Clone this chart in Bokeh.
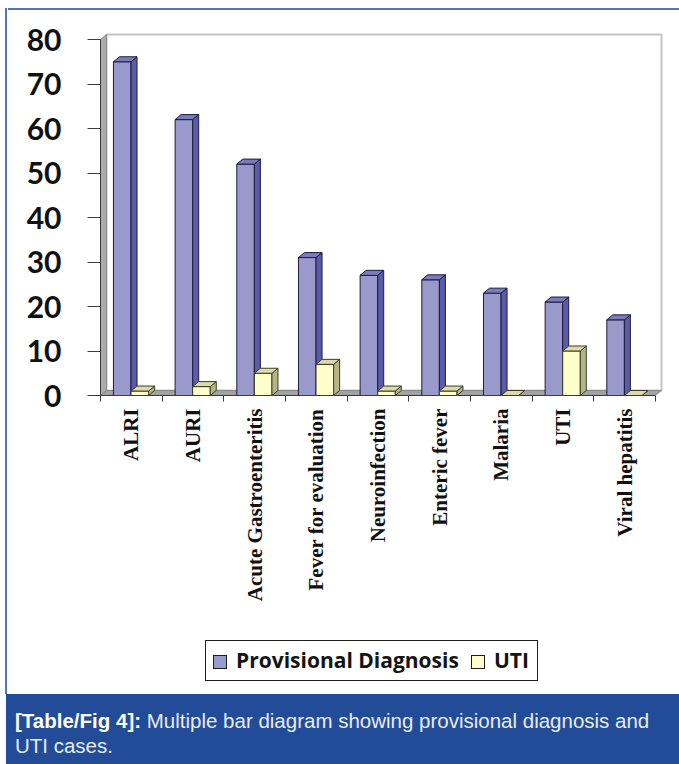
import math
from bokeh.plotting import figure
from bokeh.models import Range1d, FixedTicker, Div
from bokeh.layouts import column, row
from bokeh.embed import file_html
from bokeh.resources import INLINE

# ---------------- data ----------------
categories = ["ALRI", "AURI", "Acute Gastroenteritis", "Fever for evaluation",
              "Neuroinfection", "Enteric fever", "Malaria", "UTI", "Viral hepatitis"]
provisional = [75, 62, 52, 31, 27, 26, 23, 21, 17]
uti = [1, 2, 5, 7, 1, 1, 0, 10, 0]
y_ticks = [0, 10, 20, 30, 40, 50, 60, 70, 80]
series_names = ["Provisional Diagnosis", "UTI"]
caption_bold = "[Table/Fig 4]:"
caption_line1 = " Multiple bar diagram showing provisional diagnosis and"
caption_line2 = "UTI cases."

# ---------------- styling / layout ----------------
W = 671
LEFT_W = 8
H_TOP, H1, H_LEG, H_CAP = 10, 628, 56, 70
BORDER_BLUE = "#5376BA"
BAND_BLUE = "#224C97"

FRAME_L, FRAME_R, FRAME_T, FRAME_B = 92, 655, 22, 385
PX_PER_CAT = 61.67
PX_PER_UNIT = 4.45
n = len(categories)
X0 = 0.5
X1 = X0 + (FRAME_R - FRAME_L) / PX_PER_CAT
Y1 = (FRAME_B - FRAME_T) / PX_PER_UNIT
YMAX = y_ticks[-1]
DX = 6 / PX_PER_CAT
DY = 5 / PX_PER_UNIT
BAR_W = 0.285
PURPLE_OFF = -0.29
YELLOW_OFF = PURPLE_OFF + BAR_W

PURPLE = dict(front="#9999CC", side="#5B5BA9", top="#7B7BBE", line="#1C1C3C")
YELLOW = dict(front="#FFFFCC", side="#B5B58C", top="#DADAAE", line="#3C3C24")

p = figure(width=W, height=H1, x_range=Range1d(X0, X1), y_range=Range1d(0, Y1),
           min_border_left=FRAME_L, min_border_right=W - FRAME_R,
           min_border_top=FRAME_T, min_border_bottom=H1 - FRAME_B,
           toolbar_location=None, output_backend="svg", outline_line_color=None,
           background_fill_color="white", border_fill_color="white")
p.xgrid.visible = False
p.ygrid.visible = False

# walls and floor
p.quad(left=[X0 + DX], right=[n + X0 + DX], bottom=[DY], top=[YMAX + DY],
       fill_color="white", line_color="#C4C4C4", line_width=2)
p.patch(x=[X0, X0 + DX, X0 + DX, X0], y=[0, DY, YMAX + DY, YMAX],
        fill_color="#ABABAB", line_color="#8A8A8A", line_width=1)
p.patch(x=[X0, n + X0, n + X0 + DX, X0 + DX], y=[0, 0, DY, DY],
        fill_color="#A2A2A2", line_color="#8A8A8A", line_width=1)


def draw_bars(offset, vals, col):
    lefts = [i + 1 + offset for i in range(n)]
    rights = [l + BAR_W for l in lefts]
    p.quad(left=lefts, right=rights, bottom=[0] * n, top=vals,
           fill_color=col["front"], line_color=col["line"], line_width=1)
    p.patches(xs=[[r, r + DX, r + DX, r] for r in rights],
              ys=[[0, DY, v + DY, v] for v in vals],
              fill_color=col["side"], line_color=col["line"], line_width=1)
    p.patches(xs=[[l, r, r + DX, l + DX] for l, r in zip(lefts, rights)],
              ys=[[v, v, v + DY, v + DY] for v in vals],
              fill_color=col["top"], line_color=col["line"], line_width=1)


draw_bars(PURPLE_OFF, provisional, PURPLE)
draw_bars(YELLOW_OFF, uti, YELLOW)

# axes
xa = p.xaxis[0]
xa.ticker = FixedTicker(ticks=list(range(1, n + 1)),
                        minor_ticks=[i + 0.5 for i in range(n + 1)])
xa.major_label_overrides = {i + 1: c for i, c in enumerate(categories)}
xa.bounds = (0.5, n + 0.5)
xa.axis_line_color = "#3A3A3A"
xa.major_tick_line_color = None
xa.major_tick_out = 6
xa.major_tick_in = 0
xa.minor_tick_in = 0
xa.minor_tick_out = 6
xa.minor_tick_line_color = "#3A3A3A"
xa.major_label_orientation = math.pi / 2
xa.major_label_standoff = 7
xa.major_label_text_font = "Liberation Serif"
xa.major_label_text_font_size = "21px"
xa.major_label_text_font_style = "bold"
xa.major_label_text_color = "#111111"

ya = p.yaxis[0]
ya.ticker = FixedTicker(ticks=y_ticks, minor_ticks=[])
ya.bounds = (0, YMAX)
ya.axis_line_color = "#3A3A3A"
ya.major_tick_line_color = "#3A3A3A"
ya.major_tick_out = 13
ya.major_tick_in = 0
ya.minor_tick_line_color = None
ya.major_label_standoff = 26
ya.major_label_text_font = "Lato"
ya.major_label_text_font_size = "30px"
ya.major_label_text_font_style = "bold"
ya.major_label_text_color = "#111111"

# ---------------- frame lines (top + left) ----------------
top_div = Div(text="", width=W, height=H_TOP, margin=0,
              styles={"background": f"linear-gradient({BORDER_BLUE},{BORDER_BLUE}) 0 8px / 100% 2px no-repeat, white"})
left_div = Div(text="", width=LEFT_W, height=H_TOP + H1 + H_LEG + H_CAP, margin=0,
               styles={"background": (f"linear-gradient({BORDER_BLUE},{BORDER_BLUE}) 5px 8px / 2px 686px no-repeat, "
                                      f"linear-gradient({BAND_BLUE},{BAND_BLUE}) 6px 694px / 2px 70px no-repeat, white")})

# ---------------- legend ----------------
sq = "position:absolute;top:17px;width:14px;height:14px;border:1px solid #1E1E1E;box-sizing:border-box;"
txt = ("position:absolute;top:12px;font-family:'Open Sans';font-weight:bold;font-size:21px;"
       "line-height:21px;color:#141414;white-space:nowrap;")
legend_html = (
    f'<div style="position:relative;width:{W}px;height:{H_LEG}px;background:white;">'
    f'<div style="position:absolute;left:197px;top:2px;width:333px;height:41px;'
    f'border:1px solid #1E1E1E;box-sizing:border-box;"></div>'
    f'<div style="{sq}left:205px;background:{PURPLE["front"]};"></div>'
    f'<div style="{txt}left:228px;">{series_names[0]}</div>'
    f'<div style="{sq}left:463px;background:{YELLOW["front"]};"></div>'
    f'<div style="{txt}left:486px;">{series_names[1]}</div>'
    '</div>'
)
leg_div = Div(text=legend_html, width=W, height=H_LEG, margin=0)

# ---------------- caption band ----------------
caption_html = (
    f'<div style="position:relative;width:{W}px;height:{H_CAP}px;background:{BAND_BLUE};'
    "font-family:'Liberation Sans';font-size:20.5px;line-height:25px;color:#E8ECF4;\">"
    '<div style="position:absolute;left:7px;top:13.5px;white-space:nowrap;">'
    f'<b style="color:white;">{caption_bold}</b>{caption_line1}<br>{caption_line2}'
    '</div></div>'
)
cap_div = Div(text=caption_html, width=W, height=H_CAP, margin=0,
              styles={"background": BAND_BLUE})

inner = column(top_div, p, leg_div, cap_div, spacing=0)
layout = row(left_div, inner, spacing=0)
open("out.html", "w").write(file_html(layout, INLINE))
